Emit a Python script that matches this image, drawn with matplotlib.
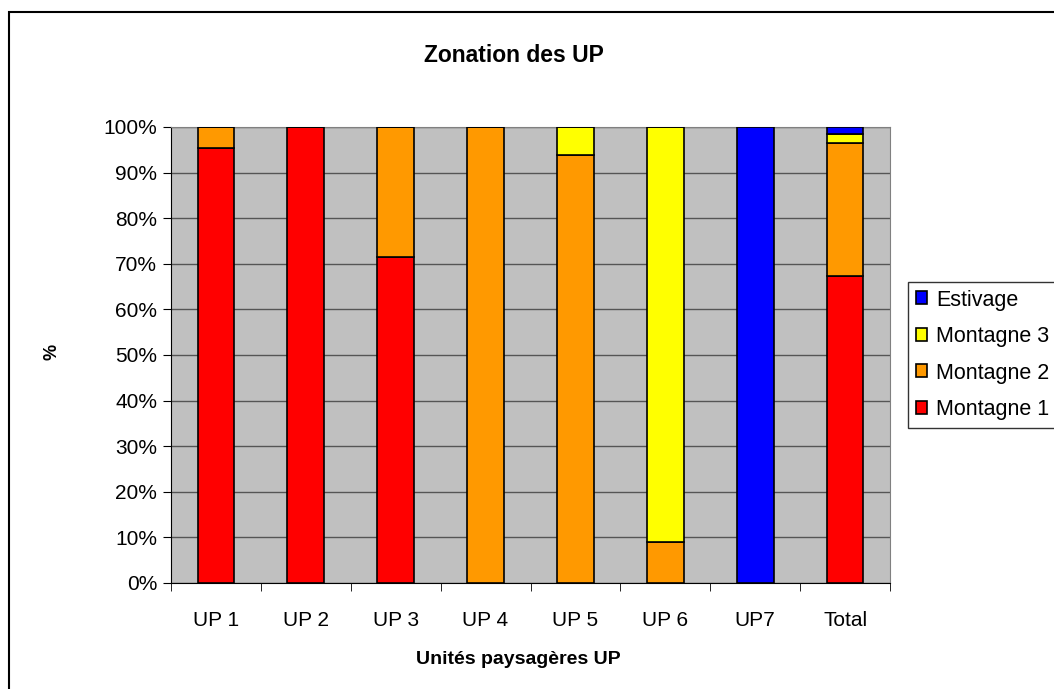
import matplotlib.pyplot as plt
from matplotlib.patches import Rectangle
from matplotlib.ticker import PercentFormatter
import numpy as np

categories = ['UP 1', 'UP 2', 'UP 3', 'UP 4', 'UP 5', 'UP 6', 'UP7', 'Total']
montagne1 = [95.5, 100, 71.5, 0, 0, 0, 0, 67.3]
montagne2 = [4.5, 0, 28.5, 100, 93.8, 9.0, 0, 29.2]
montagne3 = [0, 0, 0, 0, 6.2, 91.0, 0, 1.9]
estivage = [0, 0, 0, 0, 0, 0, 100, 1.6]

series = [('Montagne 1', montagne1, '#ff0000'),
          ('Montagne 2', montagne2, '#ff9900'),
          ('Montagne 3', montagne3, '#ffff00'),
          ('Estivage', estivage, '#0000ff')]

plt.rcParams['font.family'] = ['Liberation Sans', 'DejaVu Sans']

fig = plt.figure(figsize=(10.54, 6.89), dpi=100)
ax = fig.add_axes([171 / 1054, 1 - 583 / 689, 719 / 1054, 456 / 689])
ax.set_facecolor('#c0c0c0')

x = np.arange(len(categories))
bottom = np.zeros(len(categories))
handles = []
for name, vals, col in series:
    vals = np.array(vals)
    b = ax.bar(x, vals, 0.41, bottom=bottom, color=col, edgecolor='black',
               linewidth=1.2, label=name, zorder=3)
    handles.append(b)
    bottom += vals

ax.set_xlim(-0.5, len(categories) - 0.5)
ax.set_ylim(0, 100)
ax.set_yticks(np.arange(0, 101, 10))
ax.yaxis.set_major_formatter(PercentFormatter(decimals=0))
ax.grid(axis='y', color='#555555', linewidth=1, zorder=1)
ax.set_axisbelow(True)

ax.set_xticks(x)
ax.set_xticklabels(categories)
ax.set_xticks(np.arange(-0.5, len(categories)), minor=True)
ax.tick_params(axis='x', which='major', length=0, labelsize=15, pad=20)
ax.tick_params(axis='x', which='minor', length=6, direction='out')
ax.tick_params(axis='y', length=6, direction='out', labelsize=15, pad=4)

for s in ['top', 'right']:
    ax.spines[s].set_color('#808080')
for s in ['left', 'bottom']:
    ax.spines[s].set_color('black')

fig.text(514 / 1054, 1 - 56 / 689, 'Zonation des UP', fontsize=16.5,
         fontweight='bold', ha='center', va='center')
fig.text(518 / 1054, 1 - 660 / 689, 'Unités paysagères UP', fontsize=14,
         fontweight='bold', ha='center', va='center')
fig.text(52 / 1054, 1 - 352 / 689, '%', fontsize=13, fontweight='bold',
         ha='center', va='center', rotation=90)

leg = fig.legend(handles[::-1], [s[0] for s in series][::-1],
                 loc='upper left', bbox_to_anchor=(908 / 1054, 1 - 282 / 689),
                 borderaxespad=0, frameon=True, fancybox=False,
                 edgecolor='black', fontsize=15.5, handlelength=0.55,
                 handleheight=0.55, handletextpad=0.4, borderpad=0.35,
                 labelspacing=0.72)
leg.get_frame().set_linewidth(1)

fig.patches.append(Rectangle((9 / 1054, -0.1), 1.1, 1.1 - 12 / 689,
                             transform=fig.transFigure, fill=False,
                             edgecolor='black', linewidth=1.5, clip_on=False))

fig.savefig('out.png', dpi=100)
